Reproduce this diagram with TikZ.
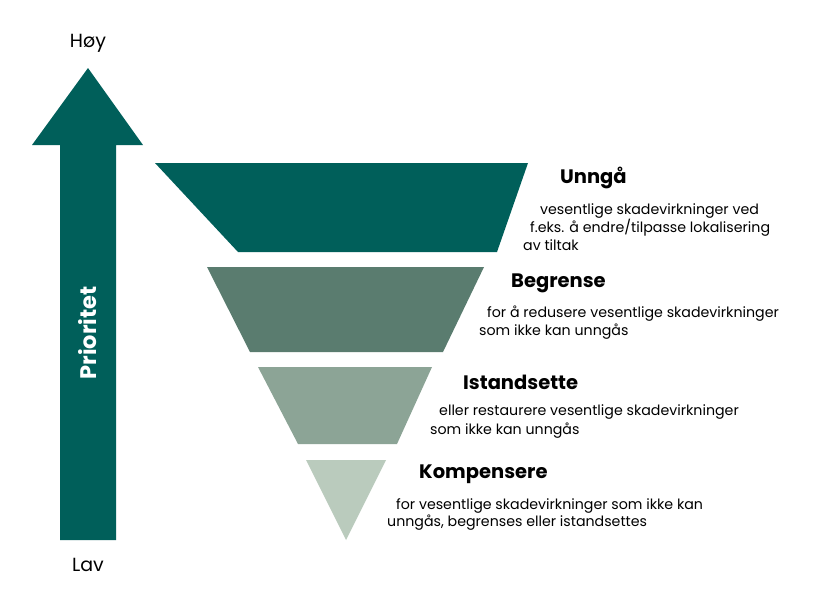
\documentclass[tikz,border=0pt]{standalone}
\usepackage{fontspec}
\setmainfont{Poppins}
\begin{document}
\begin{tikzpicture}[x=1pt,y=-1pt,
  body/.style={anchor=west,inner sep=0pt,font=\fontsize{14.2}{16}\selectfont},
  head/.style={anchor=west,inner sep=0pt,font=\fontsize{19.5}{22}\selectfont\bfseries},
  ax/.style={inner sep=0pt,font=\fontsize{19}{21}\selectfont}]
\definecolor{c1}{HTML}{005F5A}
\definecolor{c2}{HTML}{5A7C6F}
\definecolor{c3}{HTML}{8CA496}
\definecolor{c4}{HTML}{BACBBD}
\useasboundingbox[fill=white] (0,0) rectangle (822,608);
\fill[c1] (60,540) -- (60,145) -- (32,145) -- (88,68) -- (143,145) -- (116,145) -- (116,540) -- cycle;
\node[ax] (hi) at (88,43) {Høy};
\node[ax] (lo) at (88,565) {Lav};
\node[rotate=90,text=white,inner sep=0pt,font=\fontsize{22.5}{25}\selectfont\bfseries] (pr) at (88,333) {Prioritet};
\fill[c1] (155,163) -- (528,163) -- (497,252) -- (238,252) -- cycle;
\fill[c2] (207,267) -- (484,267) -- (443,352) -- (250,352) -- cycle;
\fill[c3] (258,367) -- (432,367) -- (397,444) -- (298,444) -- cycle;
\fill[c4] (306,460) -- (386,460) -- (346,540) -- cycle;
\node[head] (h1) at (560,178) {Unngå};
\node[body] (a1) at (540,211) {vesentlige skadevirkninger ved};
\node[body] (a2) at (530,228) {f.eks. å endre/tilpasse lokalisering};
\node[body] (a3) at (523,245) {av tiltak};
\node[head] (h2) at (511,283) {Begrense};
\node[body] (b1) at (487,314) {for å redusere vesentlige skadevirkninger};
\node[body] (b2) at (479,332) {som ikke kan unngås};
\node[head] (h3) at (463,382) {Istandsette};
\node[body] (c1n) at (439,412) {eller restaurere vesentlige skadevirkninger};
\node[body] (c2n) at (430,431) {som ikke kan unngås};
\node[head] (h4) at (419,474) {Kompensere};
\node[body] (d1) at (396,506) {for vesentlige skadevirkninger som ikke kan};
\node[body] (d2) at (387,523) {unngås, begrenses eller istandsettes};
\end{tikzpicture}
\end{document}
